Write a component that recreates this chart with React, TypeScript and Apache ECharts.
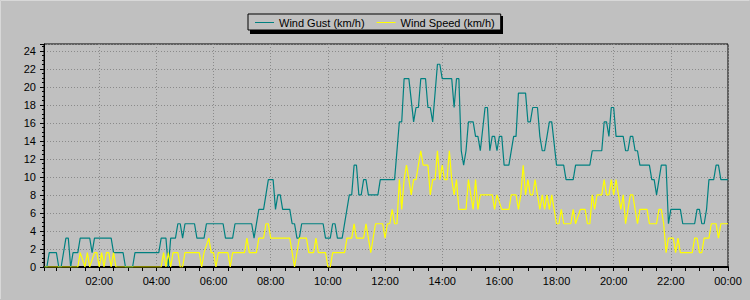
import { useEffect, useRef } from 'react';
import * as echarts from 'echarts';

// Time of day in minutes after midnight, values in km/h
const gustMinutes = [
  5, 10, 15, 30, 35, 40, 50, 55, 60, 65, 75, 80, 100, 105, 110, 145, 150, 170, 175, 190, 195,
  245, 250, 260, 265, 270, 280, 285, 290, 295, 300, 320, 325, 340, 345, 380, 385, 400, 405,
  440, 445, 455, 465, 475, 485, 490, 495, 500, 505, 520, 525, 530, 535, 540, 545, 590, 595,
  605, 610, 615, 620, 630, 645, 650, 655, 660, 665, 670, 675, 680, 685, 705, 710, 740, 750,
  755, 760, 770, 780, 785, 790, 795, 805, 810, 815, 820, 830, 835, 840, 860, 865, 870, 875,
  880, 885, 890, 895, 905, 910, 915, 920, 930, 935, 940, 945, 950, 955, 960, 965, 970, 980,
  990, 995, 1000, 1015, 1020, 1025, 1030, 1040, 1045, 1050, 1055, 1060, 1065, 1070, 1080,
  1095, 1100, 1115, 1120, 1150, 1155, 1175, 1180, 1185, 1190, 1195, 1200, 1205, 1220, 1225,
  1230, 1235, 1240, 1245, 1250, 1255, 1275, 1280, 1285, 1290, 1300, 1310, 1315, 1320, 1340,
  1345, 1370, 1375, 1380, 1385, 1390, 1395, 1400, 1410, 1415, 1420, 1425, 1440,
];
const gustKmh = [
  0, 0, 1.6, 1.6, 0, 0, 3.2, 3.2, 0, 1.6, 1.6, 3.2, 3.2, 1.6, 3.2, 3.2, 1.6, 1.6, 0, 0, 1.6,
  1.6, 3.2, 3.2, 0, 3.2, 3.2, 4.8, 4.8, 3.2, 4.8, 4.8, 3.2, 3.2, 4.8, 4.8, 3.2, 3.2, 4.8,
  4.8, 3.2, 6.4, 6.4, 9.7, 9.7, 6.4, 8.0, 8.0, 6.4, 6.4, 4.8, 4.8, 3.2, 3.2, 4.8, 4.8, 3.2,
  3.2, 4.8, 4.8, 3.2, 3.2, 8.0, 8.0, 11.3, 11.3, 8.0, 8.0, 9.7, 9.7, 8.0, 8.0, 9.7, 9.7, 16.1,
  16.1, 20.9, 20.9, 16.1, 17.7, 17.7, 20.9, 20.9, 17.7, 17.7, 16.1, 22.5, 22.5, 20.9, 20.9, 17.7, 20.9, 20.9,
  12.9, 11.3, 12.9, 16.1, 16.1, 14.5, 14.5, 12.9, 17.7, 17.7, 12.9, 14.5, 14.5, 12.9, 14.5, 14.5, 11.3, 11.3,
  14.5, 14.5, 19.3, 19.3, 16.1, 16.1, 17.7, 17.7, 14.5, 12.9, 12.9, 14.5, 16.1, 16.1, 11.3,
  11.3, 9.7, 9.7, 11.3, 11.3, 12.9, 12.9, 16.1, 16.1, 14.5, 17.7, 17.7, 14.5, 14.5, 12.9,
  12.9, 14.5, 14.5, 12.9, 12.9, 11.3, 11.3, 9.7, 9.7, 8.0, 11.3, 11.3, 4.8, 6.4, 6.4,
  4.8, 4.8, 6.4, 6.4, 4.8, 4.8, 6.4, 9.7, 9.7, 11.3, 11.3, 9.7, 9.7,
];

const speedMinutes = [
  5, 75, 80, 90, 95, 100, 110, 115, 120, 125, 130, 135, 140, 145, 150, 155, 250, 255, 260,
  265, 270, 275, 285, 290, 295, 300, 330, 335, 340, 350, 355, 360, 365, 370, 390, 395, 400,
  425, 430, 435, 450, 455, 465, 470, 475, 480, 520, 525, 530, 535, 540, 555, 560, 570, 575,
  580, 595, 600, 605, 610, 635, 640, 650, 655, 660, 675, 680, 685, 690, 700, 715, 720, 725,
  730, 735, 740, 745, 750, 755, 760, 765, 770, 775, 780, 785, 790, 795, 800, 810, 815, 820,
  825, 830, 835, 840, 845, 850, 855, 860, 865, 870, 875, 890, 895, 900, 905, 910, 915, 920,
  945, 950, 955, 965, 980, 985, 995, 1000, 1005, 1010, 1015, 1020, 1025, 1030, 1035, 1040,
  1045, 1050, 1055, 1060, 1065, 1070, 1075, 1080, 1085, 1090, 1095, 1110, 1115, 1120, 1130,
  1140, 1145, 1150, 1155, 1160, 1165, 1175, 1180, 1185, 1190, 1195, 1200, 1205, 1210, 1215,
  1220, 1225, 1235, 1240, 1245, 1250, 1255, 1270, 1275, 1290, 1295, 1300, 1305, 1310, 1315,
  1325, 1330, 1335, 1340, 1365, 1370, 1375, 1380, 1385, 1390, 1400, 1405, 1415, 1420, 1425, 1440,
];
const speedKmh = [
  0, 0, 1.6, 0, 1.6, 0, 1.6, 1.6, 0, 1.6, 0, 1.6, 1.6, 0, 1.6, 0, 0, 1.6, 0,
  1.6, 0, 1.6, 1.6, 0, 0, 1.6, 1.6, 0, 1.6, 3.2, 1.6, 1.6, 0, 1.6, 1.6, 0, 1.6,
  1.6, 3.2, 1.6, 1.6, 3.2, 3.2, 4.8, 4.8, 3.2, 3.2, 1.6, 0, 1.6, 3.2, 3.2, 1.6, 1.6, 3.2,
  1.6, 1.6, 0, 0, 1.6, 1.6, 3.2, 3.2, 4.8, 3.2, 3.2, 4.8, 3.2, 1.6, 4.8, 4.8, 3.2, 4.8,
  4.8, 6.4, 4.8, 4.8, 9.7, 6.4, 9.7, 11.3, 9.7, 8.0, 9.7, 9.7, 11.3, 12.9, 11.3, 11.3, 8.0, 9.7,
  9.7, 12.9, 9.7, 11.3, 9.7, 9.7, 12.9, 9.7, 8.0, 9.7, 6.4, 6.4, 9.7, 8.0, 6.4, 9.7, 6.4, 8.0,
  8.0, 6.4, 8.0, 6.4, 6.4, 8.0, 8.0, 6.4, 8.0, 11.3, 8.0, 9.7, 8.0, 8.0, 9.7, 8.0,
  6.4, 8.0, 6.4, 8.0, 6.4, 8.0, 6.4, 4.8, 4.8, 6.4, 4.8, 4.8, 6.4, 4.8, 6.4,
  6.4, 4.8, 4.8, 8.0, 6.4, 8.0, 8.0, 9.7, 8.0, 8.0, 9.7, 8.0, 9.7, 8.0, 6.4,
  8.0, 4.8, 8.0, 8.0, 6.4, 4.8, 6.4, 6.4, 4.8, 4.8, 6.4, 6.4, 4.8, 1.6, 3.2,
  3.2, 1.6, 3.2, 1.6, 1.6, 3.2, 3.2, 1.6, 1.6, 3.2, 3.2, 4.8, 4.8, 3.2, 4.8, 4.8,
];

const seriesNames = ['Wind Gust (km/h)', 'Wind Speed (km/h)'];
const seriesColors = ['#008080', '#ffff00'];

const FONT = '"Liberation Sans", Arial, sans-serif';

export default function App() {
  const ref = useRef<HTMLDivElement>(null);
  useEffect(() => {
    const chart = echarts.init(ref.current!, null, { renderer: 'svg' });
    const toPts = (mins: number[], vals: number[]) => mins.map((m, i) => [m / 60, vals[i]]);
    const pad = (n: number) => (n < 10 ? '0' + n : '' + n);
    chart.setOption({
      animation: false,
      backgroundColor: '#c0c0c0',
      textStyle: { fontFamily: FONT, fontSize: 11, color: '#000' },
      graphic: [
        {
          type: 'rect',
          z: 1,
          shape: { x: 250, y: 16, width: 253, height: 18 },
          style: { fill: '#000' },
        },
        {
          type: 'polyline',
          z: 1,
          shape: { points: [[0.5, 299], [0.5, 0.5], [749.5, 0.5]] },
          style: { stroke: '#d8d8d8', lineWidth: 1, fill: 'none' },
        },
      ],
      legend: {
        left: 248,
        top: 14,
        padding: [3, 6, 2, 7],
        itemGap: 12,
        itemWidth: 19,
        itemHeight: 1,
        icon: 'rect',
        backgroundColor: '#c0c0c0',
        borderColor: '#000',
        borderWidth: 1,
        z: 5,
        textStyle: { fontFamily: FONT, fontSize: 11, color: '#000' },
        data: seriesNames,
      },
      grid: {
        left: 44,
        right: 22,
        top: 44,
        bottom: 33,
        show: true,
        borderColor: '#000',
        borderWidth: 1,
        backgroundColor: 'transparent',
      },
      xAxis: {
        type: 'value',
        min: 4 / 60,
        max: 24,
        splitNumber: 12,
        axisLine: { show: true, lineStyle: { color: '#000', width: 2 } },
        axisTick: { show: true, length: 4, lineStyle: { color: '#000' } },
        minorTick: { show: true, splitNumber: 4, length: 4, lineStyle: { color: '#000' } },
        splitLine: { show: true, lineStyle: { color: '#8a8a8a', type: [1, 2], width: 1 } },
        minorSplitLine: { show: false },
        axisLabel: {
          showMinLabel: false,
          color: '#000',
          fontFamily: FONT,
          fontSize: 11,
          margin: 8,
          formatter: (v: number) => pad(Math.round(v) % 24) + ':00',
        },
      },
      yAxis: {
        type: 'value',
        min: 0,
        max: 24.75,
        interval: 2,
        axisLine: { show: true, lineStyle: { color: '#000', width: 1 } },
        axisTick: { show: true, length: 4, lineStyle: { color: '#000' } },
        minorTick: { show: true, splitNumber: 4, length: 2, lineStyle: { color: '#000' } },
        splitLine: { show: true, lineStyle: { color: '#8a8a8a', type: [1, 2], width: 1 } },
        axisLabel: {
          showMaxLabel: false,
          color: '#000',
          fontFamily: FONT,
          fontSize: 11,
          margin: 8,
        },
      },
      series: [
        {
          name: seriesNames[0],
          type: 'line',
          symbol: 'none',
          showSymbol: false,
          color: seriesColors[0],
          lineStyle: { color: seriesColors[0], width: 1.2 },
          data: toPts(gustMinutes, gustKmh),
        },
        {
          name: seriesNames[1],
          type: 'line',
          symbol: 'none',
          showSymbol: false,
          color: seriesColors[1],
          lineStyle: { color: seriesColors[1], width: 1.2 },
          data: toPts(speedMinutes, speedKmh),
        },
      ],
    });
    return () => chart.dispose();
  }, []);
  return (
    <div
      ref={ref}
      style={{ position: 'fixed', left: 0, top: 0, width: 750, height: 300 }}
    />
  );
}
